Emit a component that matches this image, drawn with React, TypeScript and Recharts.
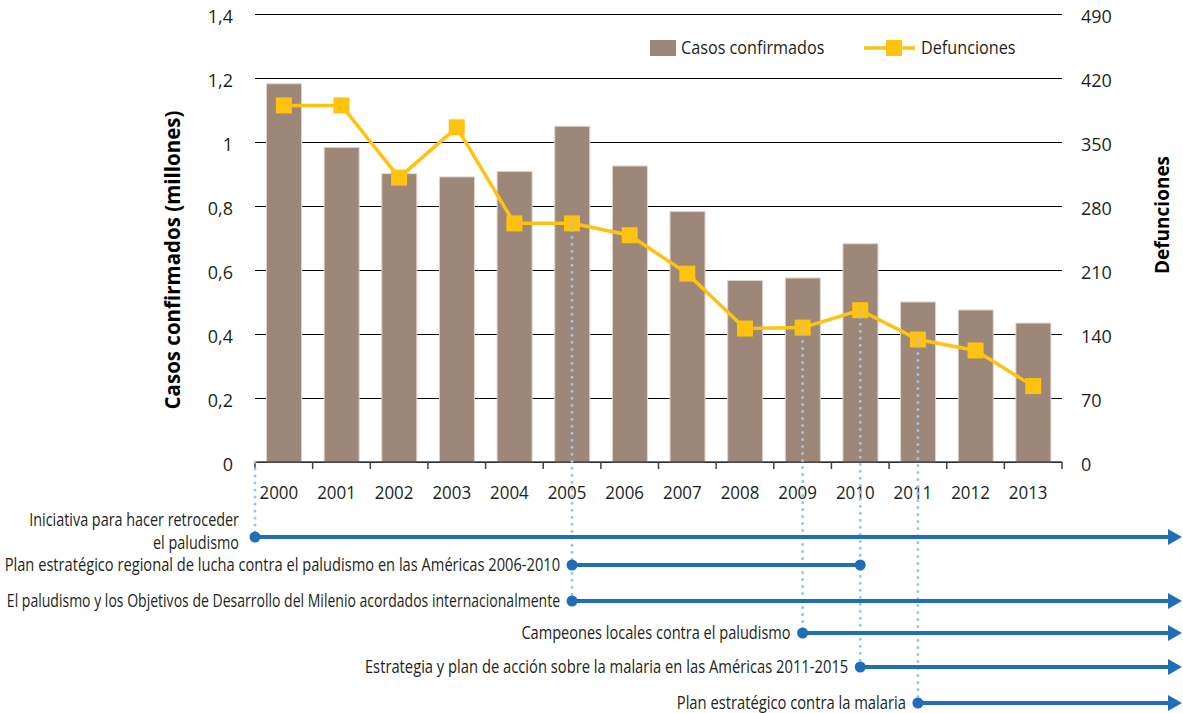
import { Bar, CartesianGrid, ComposedChart, Legend, Line, XAxis, YAxis } from 'recharts'

const years = ['2000', '2001', '2002', '2003', '2004', '2005', '2006', '2007', '2008', '2009', '2010', '2011', '2012', '2013']
const casosConfirmados = [1.182, 0.983, 0.901, 0.891, 0.908, 1.049, 0.925, 0.783, 0.567, 0.575, 0.682, 0.5, 0.475, 0.434]
const defunciones = [390, 390, 311, 366, 261, 261, 248, 206, 146, 147, 166, 134, 122, 83]

const leftTicks = [0, 0.2, 0.4, 0.6, 0.8, 1, 1.2, 1.4]
const rightTicks = [0, 70, 140, 210, 280, 350, 420, 490]

// timeline below the chart; start/end are year positions (2005.5 = middle of 2005)
const milestoneLabels = [
  'Iniciativa para hacer retroceder\nel paludismo',
  'Plan estratégico regional de lucha contra el paludismo en las Américas 2006-2010',
  'El paludismo y los Objetivos de Desarrollo del Milenio acordados internacionalmente',
  'Campeones locales contra el paludismo',
  'Estrategia y plan de acción sobre la malaria en las Américas 2011-2015',
  'Plan estratégico contra la malaria',
]
const milestoneStart = [2000, 2005.5, 2005.5, 2009.5, 2010.5, 2011.5]
const milestoneEnd: (number | null)[] = [null, 2010.5, null, null, null, null]

const data = years.map((y, i) => ({ year: y, casos: casosConfirmados[i], defunciones: defunciones[i] }))

const W = 1183
const H = 713
const PLOT_LEFT = 255
const PLOT_RIGHT = 1062
const PLOT_TOP = 14
const PLOT_BOTTOM = 462
const XAXIS_H = 40
const BAND = (PLOT_RIGHT - PLOT_LEFT) / years.length
const ROW_Y = [537, 565, 601, 633, 667, 703]
const ROW_CONDENSE = [0.8, 0.815, 0.78, 0.81, 0.82, 0.82]
const ARROW_TIP = 1182

const BROWN = '#9c8779'
const YELLOW = '#ffc20e'
const BLUE = '#1f6eb7'
const GUIDE = '#9dc3e6'
const TEXT = '#231f20'
const FONT = "'Open Sans', sans-serif"

const xPos = (yearPos: number) => PLOT_LEFT + (yearPos - Number(years[0])) * BAND
const yDeaths = (v: number) => PLOT_BOTTOM - (v / 490) * (PLOT_BOTTOM - PLOT_TOP)

function YearTick({ x, y, payload, index }: any) {
  const half = BAND / 2
  return (
    <g>
      <line x1={x - half} x2={x - half} y1={y} y2={y + 7} stroke="#404040" strokeWidth={1.5} />
      {index === years.length - 1 && (
        <line x1={x + half} x2={x + half} y1={y} y2={y + 7} stroke="#404040" strokeWidth={1.5} />
      )}
      <text
        transform={`translate(${x - 5},${y + 37}) scale(0.94,1)`}
        textAnchor="middle"
        fontSize={18}
        fontFamily={FONT}
        fill={TEXT}
      >
        {payload.value}
      </text>
    </g>
  )
}

function LegendBox() {
  return (
    <svg width={390} height={26} style={{ display: 'block', overflow: 'visible' }}>
      <rect x={0} y={2} width={26} height={16} fill={BROWN} />
      <text transform="translate(31,16) scale(0.9,1)" fontSize={18} fontFamily={FONT} fill={TEXT}>
        Casos confirmados
      </text>
      <line x1={214} x2={265} y1={10} y2={10} stroke={YELLOW} strokeWidth={3.5} />
      <rect x={236} y={2} width={16} height={16} fill={YELLOW} />
      <text transform="translate(271,16) scale(0.9,1)" fontSize={18} fontFamily={FONT} fill={TEXT}>
        Defunciones
      </text>
    </svg>
  )
}

function Timeline() {
  const guides = new Map<number, { top: number; bottom: number }>()
  milestoneStart.forEach((s, i) => {
    const points = milestoneEnd[i] == null ? [s] : [s, milestoneEnd[i] as number]
    points.forEach((p) => {
      const idx = Math.floor(p) - Number(years[0])
      const top = p % 1 === 0 ? PLOT_BOTTOM : yDeaths(defunciones[idx])
      const prev = guides.get(p)
      guides.set(p, { top, bottom: Math.max(prev ? prev.bottom : 0, ROW_Y[i]) })
    })
  })

  return (
    <svg width={W} height={H} style={{ position: 'absolute', left: 0, top: 0, pointerEvents: 'none' }}>
      {[...guides.entries()].map(([p, g]) => (
        <line
          key={`g${p}`}
          x1={xPos(p)}
          x2={xPos(p)}
          y1={g.top}
          y2={g.bottom}
          stroke={GUIDE}
          strokeWidth={3}
          strokeDasharray="0 7"
          strokeLinecap="round"
        />
      ))}
      {milestoneLabels.map((label, i) => {
        const x0 = xPos(milestoneStart[i])
        const end = milestoneEnd[i]
        const y = ROW_Y[i]
        const lines = label.split('\n')
        return (
          <g key={label}>
            {end == null ? (
              <>
                <line x1={x0} x2={ARROW_TIP - 12} y1={y} y2={y} stroke={BLUE} strokeWidth={4} />
                <polygon points={`${ARROW_TIP - 14},${y - 8} ${ARROW_TIP},${y} ${ARROW_TIP - 14},${y + 8}`} fill={BLUE} />
              </>
            ) : (
              <>
                <line x1={x0} x2={xPos(end)} y1={y} y2={y} stroke={BLUE} strokeWidth={4} />
                <circle cx={xPos(end)} cy={y} r={5.5} fill={BLUE} />
              </>
            )}
            <circle cx={x0} cy={y} r={5.5} fill={BLUE} />
            {lines.map((t, k) => {
              const tx = lines.length === 1 ? x0 - 12 : x0 - 16
              const ty = lines.length === 1 ? y : y - 17 + k * 23
              return (
                <text
                  key={t}
                  transform={`translate(${tx},${ty}) scale(${ROW_CONDENSE[i]},1)`}
                  dy="0.35em"
                  textAnchor="end"
                  fontSize={18}
                  fontFamily={FONT}
                  fill={TEXT}
                >
                  {t}
                </text>
              )
            })}
          </g>
        )
      })}
    </svg>
  )
}

export default function App() {
  return (
    <div style={{ position: 'absolute', left: 0, top: 0, width: W, height: H, background: '#fff' }}>
      <ComposedChart
        width={W}
        height={H}
        data={data}
        barCategoryGap="20%"
        margin={{ top: PLOT_TOP, right: 0, left: 0, bottom: H - PLOT_BOTTOM - XAXIS_H }}
      >
        <CartesianGrid yAxisId="left" vertical={false} stroke="#000" strokeWidth={1} shapeRendering="crispEdges" />
        <XAxis
          dataKey="year"
          height={XAXIS_H}
          interval={0}
          tickSize={0}
          tickMargin={0}
          tickLine={false}
          axisLine={{ stroke: '#404040', strokeWidth: 1.5 }}
          tick={<YearTick />}
        />
        <YAxis
          yAxisId="left"
          width={PLOT_LEFT}
          domain={[0, 1.4]}
          ticks={leftTicks}
          tickFormatter={(v: number) => String(v).replace('.', ',')}
          axisLine={false}
          tickLine={false}
          tickSize={0}
          tickMargin={22}
          tick={{ fontSize: 18, fill: TEXT, fontFamily: FONT, dy: 3 }}
          label={{
            content: () => (
              <text
                x={180}
                y={260}
                transform="rotate(-90, 180, 260)"
                textAnchor="middle"
                fontSize={20.5}
                fontWeight={700}
                fontFamily={FONT}
                fill="#000"
              >
                Casos confirmados (millones)
              </text>
            ),
          }}
        />
        <YAxis
          yAxisId="right"
          orientation="right"
          width={W - PLOT_RIGHT}
          domain={[0, 490]}
          ticks={rightTicks}
          axisLine={false}
          tickLine={false}
          tickSize={0}
          tickMargin={19}
          tick={{ fontSize: 18, fill: TEXT, fontFamily: FONT, dy: 3 }}
          label={{
            content: () => (
              <text
                x={1169}
                y={215}
                transform="rotate(-90, 1169, 215)"
                textAnchor="middle"
                fontSize={19}
                fontWeight={700}
                fontFamily={FONT}
                fill="#000"
              >
                Defunciones
              </text>
            ),
          }}
        />
        <Legend
          layout="horizontal"
          verticalAlign="middle"
          align="center"
          wrapperStyle={{ top: 38, left: 650, width: 'auto' }}
          content={() => <LegendBox />}
        />
        <Bar
          yAxisId="left"
          dataKey="casos"
          name="Casos confirmados"
          fill={BROWN}
          stroke="#ddd4cd"
          strokeWidth={1}
          isAnimationActive={false}
        />
        <Line
          yAxisId="right"
          dataKey="defunciones"
          name="Defunciones"
          stroke={YELLOW}
          strokeWidth={3.5}
          dot={(p: any) => <rect key={`d${p.index}`} x={p.cx - 8} y={p.cy - 8} width={16} height={16} fill={YELLOW} />}
          activeDot={false}
          isAnimationActive={false}
        />
      </ComposedChart>
      <Timeline />
    </div>
  )
}
